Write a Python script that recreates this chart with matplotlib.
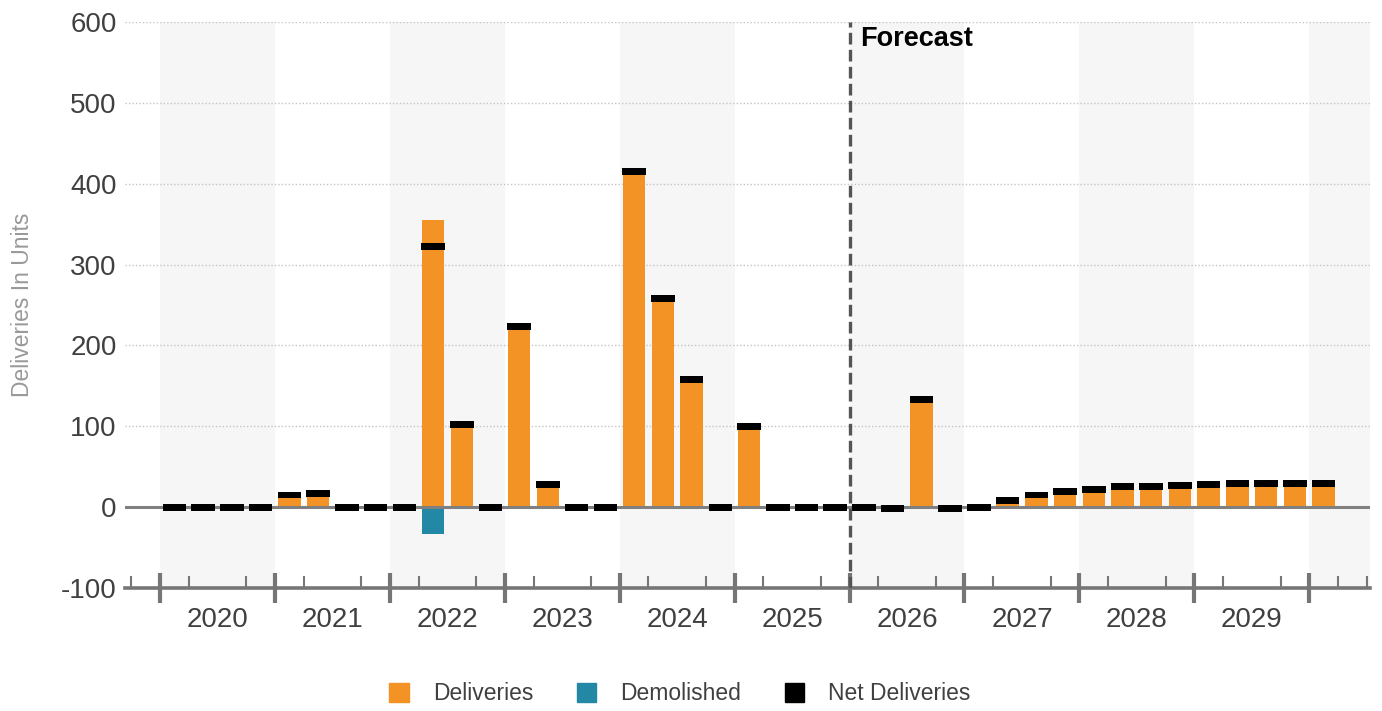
import numpy as np
import matplotlib
matplotlib.use("Agg")
import matplotlib.pyplot as plt
from matplotlib.patches import Patch

plt.rcParams['font.family'] = ['Liberation Sans', 'DejaVu Sans']
plt.rcParams['axes.unicode_minus'] = False

years = [2020, 2021, 2022, 2023, 2024, 2025, 2026, 2027, 2028, 2029]
quarters = [f"{y} Q{q}" for y in range(2020, 2031) for q in range(1, 5)][:42]

deliveries = [0, 0, 0, 0,
              15, 17, 0, 0,
              0, 355, 102, 0,
              223, 28, 0, 0,
              415, 258, 158, 0,
              100, 0, 0, 0,
              0, 0, 133, 0,
              0, 8, 15, 19,
              22, 25, 25, 27,
              28, 29, 29, 29,
              29, np.nan]
demolished = [0, 0, 0, 0,
              0, 0, 0, 0,
              0, -33, 0, 0,
              0, 0, 0, 0,
              0, 0, 0, 0,
              0, 0, 0, 0,
              0, -2, 0, -2,
              0, -0.7, -0.7, -0.7,
              -0.7, -0.7, -0.7, -0.7,
              -0.7, -0.7, -0.7, -0.7,
              -0.7, np.nan]
net = [0, 0, 0, 0,
       15, 17, 0, 0,
       0, 322, 102, 0,
       223, 28, 0, 0,
       415, 258, 158, 0,
       100, 0, 0, 0,
       0, -2, 133, -2,
       0, 8, 15, 19,
       22, 25, 25, 27,
       28, 29, 29, 29,
       29, np.nan]

forecast_start = 24  # index of first forecast quarter (2026 Q1)

ORANGE = "#F39325"
TEAL = "#2388A6"
TXT = "#404040"
AXC = "#767676"

fig = plt.figure(figsize=(13.82, 7.11), dpi=100)
ax = fig.add_axes([0.0905, 0.173, 0.9005, 0.796])

x = np.arange(len(quarters))
xmin, xmax = -1.72, 41.6
ax.set_xlim(xmin, xmax)
ax.set_ylim(-100, 600)

# alternating year shading
for k in range(0, 11, 2):
    ax.axvspan(-0.5 + 4 * k, min(3.5 + 4 * k, xmax), color="#f6f6f6", zorder=0, lw=0)

# gridlines
for v in [100, 200, 300, 400, 500, 600]:
    ax.axhline(v, color="#c4c4c4", lw=1, ls=(0, (1, 1.5)), zorder=0.5)

d = np.array(deliveries, dtype=float)
m = np.array(demolished, dtype=float)
n = np.array(net, dtype=float)

ax.bar(x, d, width=0.78, color=ORANGE, zorder=2)
ax.bar(x, m, width=0.78, color=TEAL, zorder=2)
ax.axhline(0, color="#808080", lw=2.2, zorder=2.5)
ax.bar(x, np.full_like(n, 8.6), bottom=n - 4.3, width=0.82, color="black", zorder=3)

# forecast divider
ax.axvline(forecast_start - 0.5, color="#555555", lw=2.4, ls=(0, (3.5, 1.6)), zorder=4)
ax.text(forecast_start - 0.5 + 0.35, 579, "Forecast", fontsize=19.5, fontweight="bold",
        color="black", va="center", ha="left", zorder=5)

# spines
for s in ["top", "right", "left"]:
    ax.spines[s].set_visible(False)
ax.spines["bottom"].set_color(AXC)
ax.spines["bottom"].set_linewidth(2.6)

# y ticks
ax.set_yticks([-100, 0, 100, 200, 300, 400, 500, 600])
ax.tick_params(axis="y", length=0, pad=6, labelsize=20, labelcolor=TXT)

# x: year labels at band centres, quarter ticks as minor
ax.set_xticks([1.5 + 4 * i for i in range(len(years))])
ax.set_xticklabels([str(y) for y in years])
ax.tick_params(axis="x", which="major", length=0, pad=14, labelsize=20, labelcolor=TXT)
minor = [b for b in np.arange(-1.5, 42, 1.0) if (b + 0.5) % 4 != 0]
ax.set_xticks(minor, minor=True)
ax.tick_params(axis="x", which="minor", direction="in", length=9, width=1.5, color=AXC)

sec = ax.secondary_xaxis("bottom")
sec.set_xticks([-0.5 + 4 * k for k in range(11)])
sec.set_xticklabels([])
sec.tick_params(direction="inout", length=22, width=3, color=AXC)
sec.spines["bottom"].set_visible(False)

ax.set_ylabel("Deliveries In Units", fontsize=16.5, color="#999999")
ax.yaxis.set_label_coords(-0.073, 0.5)

handles = [Patch(color=ORANGE, label="Deliveries"),
           Patch(color=TEAL, label="Demolished"),
           Patch(color="black", label="Net Deliveries")]
fig.legend(handles=handles, loc="center", bbox_to_anchor=(0.492, 0.024), ncol=3,
           frameon=False, fontsize=16.5, handlelength=0.85, handleheight=0.85,
           handletextpad=1.05, columnspacing=1.9, labelcolor=TXT)

fig.savefig("out.png", dpi=100)
